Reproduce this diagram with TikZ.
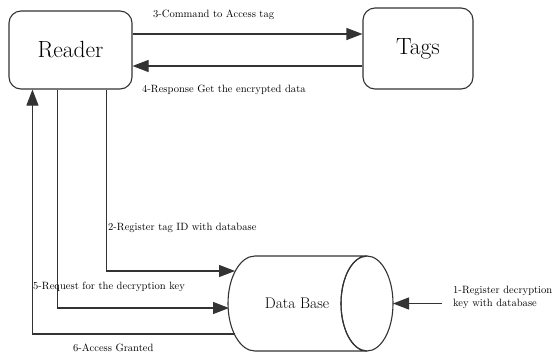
\documentclass[tikz,border=0pt]{standalone}
\usetikzlibrary{arrows.meta,calc}
\begin{document}
\begin{tikzpicture}[x=1bp,y=-1bp,
  line/.style={draw=black!80,line width=1.1bp},
  arr/.style={line,-{Triangle[length=16bp,width=12bp]}},
  box/.style={draw=black!80,line width=1.1bp,rounded corners=12bp,fill=white,font=\rmfamily\fontsize{23.5}{28}\selectfont,inner sep=0pt},
  lbl/.style={anchor=west,inner sep=0pt,font=\rmfamily\fontsize{10.6}{13}\selectfont,text=black}]
\useasboundingbox[fill=white] (0,0) rectangle (553,358);
% nodes
\node[box,minimum width=123bp,minimum height=78bp] (reader) at (70.5,50) {Reader};
\node[box,minimum width=110bp,minimum height=81bp] (tags) at (418,48.5) {Tags};
% cylinder
\draw[line,fill=white] (255,256) -- (367,256) arc[start angle=90,end angle=270,x radius=26bp,y radius=47.5bp]
  -- (255,351) arc[start angle=270,end angle=90,x radius=27bp,y radius=47.5bp] -- cycle;
\draw[line] (367,303.5) ellipse[x radius=26bp,y radius=47.5bp];
\node[inner sep=0pt,font=\rmfamily\fontsize{15.5}{19}\selectfont] (db) at (297,303) {Data Base};
\coordinate (db2) at (235,271);
\coordinate (db5) at (229,308);
\coordinate (db6) at (234.5,334);
\coordinate (db1) at (393,303.5);
\coordinate (src1) at (442,303.5);
% connectors
\draw[arr] ([yshift=16bp]reader.east) -- ([yshift=16bp]reader.east -| tags.west);
\draw[arr] ([yshift=-16bp]reader.east -| tags.west) -- ([yshift=-16bp]reader.east);
\draw[arr] ([xshift=98bp]reader.south west) |- (db2);
\draw[arr] ([xshift=49bp]reader.south west) |- (db5);
\draw[arr] (db6) -| ([xshift=24bp]reader.south west);
\draw[arr] (src1) -- (db1);
% labels
\node[lbl] (l3) at (153,15) {3-Command to Access tag};
\node[lbl] (l4) at (142,90) {4-Response Get the encrypted data};
\node[lbl] (l2) at (108,228) {2-Register tag ID with database};
\node[lbl] (l5) at (33,287) {5-Request for the decryption key};
\node[lbl] (l6) at (73,348) {6-Access Granted};
\node[lbl,align=left] (l1) at (453,297) {1-Register decryption\\key with database};
\end{tikzpicture}
\end{document}
